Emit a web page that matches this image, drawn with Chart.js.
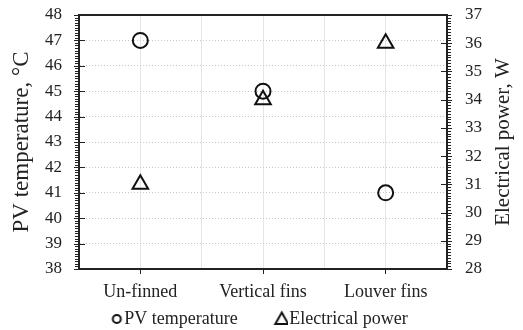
<!DOCTYPE html>
<html>
<head>
<meta charset="utf-8">
<script src="https://cdn.jsdelivr.net/npm/chart.js@4/dist/chart.umd.min.js"></script>
<style>
  html, body { margin: 0; padding: 0; background: #fff; }
  #wrap { width: 523px; height: 330px; }
</style>
</head>
<body>
<div id="wrap"><canvas id="chart" width="523" height="330"></canvas></div>
<script>
const categories = ['Un-finned', 'Vertical fins', 'Louver fins'];
const pvTemperature = [47, 45, 41];
const electricalPower = [31, 34, 36];
const leftRange = [38, 48];
const rightRange = [28, 37];
const leftTitle = 'PV temperature, °C';
const rightTitle = 'Electrical power, W';

const serif = '"Liberation Serif", "Times New Roman", serif';
const ink = '#222';
const clear = 'rgba(0,0,0,0)';

// ruler-style ticks on both y axes, top frame line, and the two axis titles
const rulerTicks = {
  id: 'rulerTicks',
  afterDraw(chart) {
    const { ctx, chartArea: a, scales } = chart;
    ctx.save();
    ctx.strokeStyle = ink;
    ctx.lineWidth = 1;
    const ruler = (scale, x, dir) => {
      for (let v = scale.min; v <= scale.max + 1e-6; v += 0.1) {
        const y = Math.round(scale.getPixelForValue(v)) + 0.5;
        const major = Math.abs(v - Math.round(v)) < 1e-6;
        ctx.beginPath();
        if (major) {
          ctx.moveTo(x + dir * 5, y);
          ctx.lineTo(x - dir * 6, y);
        } else {
          ctx.moveTo(x, y);
          ctx.lineTo(x + dir * 4, y);
        }
        ctx.stroke();
      }
    };
    ruler(scales.y, a.left, -1);
    ruler(scales.y1, a.right, 1);
    ctx.lineWidth = 2;
    ctx.beginPath();
    ctx.moveTo(a.left, a.top);
    ctx.lineTo(a.right, a.top);
    ctx.stroke();

    const midY = (a.top + a.bottom) / 2;
    ctx.fillStyle = ink;
    ctx.textAlign = 'center';
    ctx.textBaseline = 'middle';
    [[leftTitle, 22, 23], [rightTitle, 503, 21]].forEach(([t, x, size]) => {
      ctx.save();
      ctx.font = size + 'px ' + serif;
      ctx.translate(x, midY);
      ctx.rotate(-Math.PI / 2);
      ctx.fillText(t, 0, 0);
      ctx.restore();
    });
    ctx.restore();
  }
};

// small legend symbols, drawn right of centre so they sit close to the text
function legendMark(kind) {
  const c = document.createElement('canvas');
  c.width = 34; c.height = 20;
  const g = c.getContext('2d');
  g.strokeStyle = '#111';
  g.lineWidth = 2;
  const cx = 27.5, cy = 10;
  g.beginPath();
  if (kind === 'circle') {
    g.arc(cx, cy, 4, 0, Math.PI * 2);
  } else {
    g.moveTo(cx, cy - 6.5);
    g.lineTo(cx + 6.5, cy + 5);
    g.lineTo(cx - 6.5, cy + 5);
    g.closePath();
  }
  g.stroke();
  return c;
}
const marks = [legendMark('circle'), legendMark('triangle')];

const baseLabels = Chart.defaults.plugins.legend.labels.generateLabels;

new Chart(document.getElementById('chart'), {
  type: 'scatter',
  data: {
    datasets: [
      {
        label: 'PV temperature',
        data: pvTemperature.map((v, i) => ({ x: i + 1, y: v })),
        yAxisID: 'y',
        pointStyle: 'circle',
        pointRadius: 7.5,
        pointBorderWidth: 2,
        borderColor: '#111',
        backgroundColor: clear
      },
      {
        label: 'Electrical power',
        data: electricalPower.map((v, i) => ({ x: i + 1, y: v })),
        yAxisID: 'y1',
        pointStyle: 'triangle',
        pointRadius: 9,
        pointBorderWidth: 2,
        borderColor: '#111',
        backgroundColor: clear
      }
    ]
  },
  options: {
    responsive: false,
    animation: false,
    layout: { padding: { left: 0, right: 0, top: 15, bottom: -8 } },
    plugins: {
      tooltip: { enabled: false },
      legend: {
        position: 'bottom',
        labels: {
          usePointStyle: true,
          boxHeight: 7,
          padding: 2,
          color: ink,
          font: { family: serif, size: 18 },
          generateLabels: chart => baseLabels(chart).map((l, i) =>
            Object.assign(l, {
              pointStyle: marks[i],
              text: l.text + '\u00a0'.repeat(i === 0 ? 5 : 4)
            }))
        }
      }
    },
    scales: {
      x: {
        type: 'linear',
        min: 0.5,
        max: 3.5,
        afterFit: s => { s.height = 39; },
        ticks: {
          stepSize: 0.5,
          autoSkip: false,
          maxRotation: 0,
          minRotation: 0,
          color: ink,
          font: { family: serif, size: 18 },
          padding: 7,
          callback: v => Number.isInteger(v) ? categories[v - 1] : ''
        },
        grid: {
          color: c => (c.tick && c.tick.value > 0.5 && c.tick.value < 3.5) ? '#e6e6e6' : clear,
          tickColor: c => (c.tick && Number.isInteger(c.tick.value)) ? ink : clear,
          tickLength: 5
        },
        border: { color: ink, width: 2 }
      },
      y: {
        position: 'left',
        min: leftRange[0],
        max: leftRange[1],
        afterFit: s => { s.width = 79; },
        ticks: { stepSize: 1, autoSkip: false, color: ink, font: { family: serif, size: 17 }, padding: 0 },
        grid: {
          color: c => (c.tick && c.tick.value > leftRange[0] && c.tick.value < leftRange[1]) ? '#c8c8c8' : clear,
          tickColor: clear,
          tickLength: 17
        },
        border: { color: ink, width: 2, dash: [1, 2] }
      },
      y1: {
        position: 'right',
        min: rightRange[0],
        max: rightRange[1],
        afterFit: s => { s.width = 76; },
        ticks: { stepSize: 1, autoSkip: false, color: ink, font: { family: serif, size: 17 }, padding: 0 },
        grid: { drawOnChartArea: false, tickColor: clear, tickLength: 18 },
        border: { color: ink, width: 2 }
      }
    }
  },
  plugins: [rulerTicks]
});
</script>
</body>
</html>
